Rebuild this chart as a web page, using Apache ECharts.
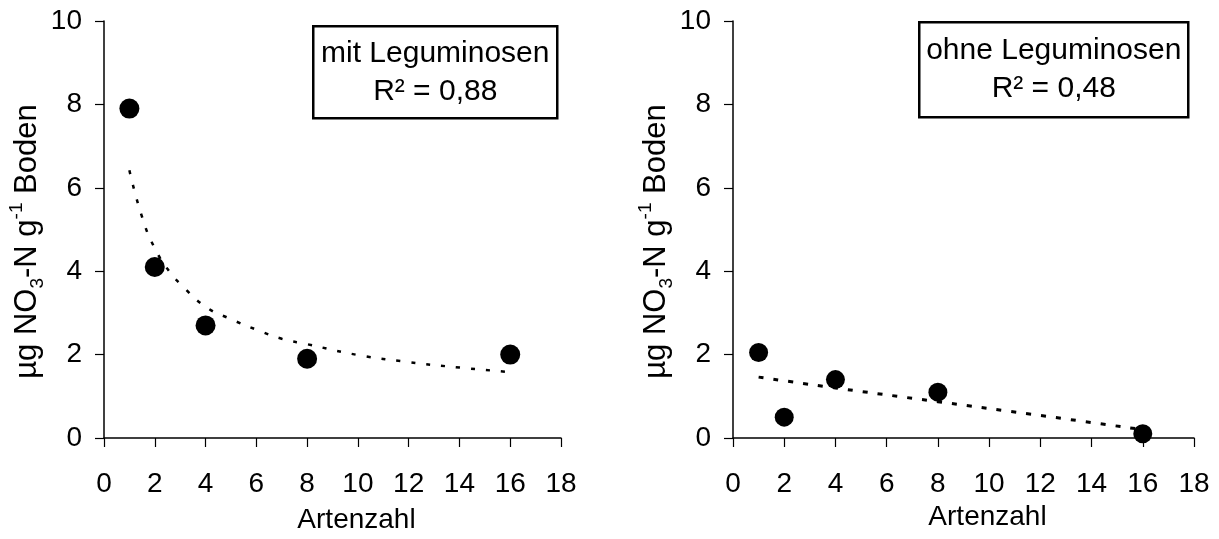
<!DOCTYPE html>
<html>
<head>
<meta charset="utf-8">
<title>Nitrat und Artenzahl</title>
<script src="https://cdn.jsdelivr.net/npm/echarts@6/dist/echarts.min.js"></script>
<style>
  html, body { margin: 0; padding: 0; background: #fff; }
  #chart { width: 1219px; height: 539px; }
</style>
</head>
<body>
<div id="chart"></div>
<script>
var artenzahl = [1, 2, 4, 8, 16];
var mitLeg = [7.9, 4.1, 2.7, 1.9, 2.0];
var ohneLeg = [2.05, 0.5, 1.4, 1.1, 0.1];

// Trendlinien
var trendMitX = [1, 1.5, 2, 2.6, 3, 4, 5, 6, 7, 8, 10, 12, 14, 16];
var trendMitY = [6.42, 5.3, 4.55, 3.97, 3.7, 3.15, 2.85, 2.6, 2.38, 2.25, 1.99, 1.82, 1.69, 1.58];
var trendOhneX = [1, 4, 8, 12, 16];
var trendOhneY = [1.46, 1.2, 0.87, 0.54, 0.2];

var xTicks = [0, 2, 4, 6, 8, 10, 12, 14, 16, 18];
var yTicks = [0, 2, 4, 6, 8, 10];

var boxTexte = ['mit Leguminosen\nR² = 0,88', 'ohne Leguminosen\nR² = 0,48'];

function pairs(xs, ys) {
  var out = [];
  for (var i = 0; i < xs.length; i++) out.push([xs[i], ys[i]]);
  return out;
}

var font = 'Liberation Sans, Arial, sans-serif';
var yName = '{a|µg NO}{sub|3}{a|-N g}{sup|-1}{a| Boden}';
var yNameRich = {
  a: { fontSize: 31, lineHeight: 40, color: '#000', fontFamily: font },
  sub: { fontSize: 19, lineHeight: 24, verticalAlign: 'bottom', color: '#000', fontFamily: font },
  sup: { fontSize: 19, lineHeight: 20, verticalAlign: 'top', color: '#000', fontFamily: font }
};

function xAxis(idx, gap) {
  return {
    type: 'value', gridIndex: idx, min: xTicks[0], max: xTicks[xTicks.length - 1], interval: 2,
    name: 'Artenzahl', nameLocation: 'middle', nameGap: gap,
    nameTextStyle: { fontSize: 28, color: '#000', fontFamily: font, padding: [0, 0, 0, 48] },
    axisLine: { lineStyle: { color: '#000', width: 1.5 } },
    axisTick: { length: 9, lineStyle: { color: '#000', width: 1.2 } },
    axisLabel: { fontSize: 28, color: '#000', fontFamily: font, margin: 32 },
    splitLine: { show: false }
  };
}

function yAxis(idx) {
  return {
    type: 'value', gridIndex: idx, min: yTicks[0], max: yTicks[yTicks.length - 1], interval: 2,
    name: yName, nameLocation: 'middle', nameRotate: 90, nameGap: 50,
    nameTextStyle: { rich: yNameRich, padding: [0, 24, 0, 0] },
    axisLine: { show: true, lineStyle: { color: '#000', width: 1.5 } },
    axisTick: { show: true, length: 9, lineStyle: { color: '#000', width: 1.2 } },
    axisLabel: { fontSize: 28, color: '#000', fontFamily: font, margin: 22 },
    splitLine: { show: false }
  };
}

function punkte(idx, data, size) {
  return {
    type: 'scatter', xAxisIndex: idx, yAxisIndex: idx, data: data,
    symbol: 'circle', symbolSize: size, itemStyle: { color: '#000', opacity: 1 }, z: 3
  };
}

function trend(idx, data, width, dash) {
  return {
    type: 'line', xAxisIndex: idx, yAxisIndex: idx, data: data, smooth: true,
    showSymbol: false, lineStyle: { color: '#000', width: width, type: dash }, z: 2
  };
}

function box(x, y, w, h, txt) {
  return {
    type: 'group', left: x, top: y,
    children: [
      { type: 'rect', shape: { x: 0, y: 0, width: w, height: h },
        style: { fill: '#fff', stroke: '#000', lineWidth: 2.5 } },
      { type: 'text', x: w / 2, y: h / 2,
        style: { text: txt, font: '30px ' + font, fill: '#000', align: 'center',
                 verticalAlign: 'middle', lineHeight: 38 } }
    ]
  };
}

var chart = echarts.init(document.getElementById('chart'));
var option = {
  animation: false,
  grid: [
    { left: 104, top: 21, width: 457, height: 421 },
    { left: 733, top: 21, width: 461, height: 417 }
  ],
  xAxis: [xAxis(0, 68), xAxis(1, 65)],
  yAxis: [yAxis(0), yAxis(1)],
  series: [
    trend(0, pairs(trendMitX, trendMitY), 2.5, [4, 11]),
    punkte(0, pairs(artenzahl, mitLeg), 20),
    trend(1, pairs(trendOhneX, trendOhneY), 3, [5, 10]),
    punkte(1, pairs(artenzahl, ohneLeg), 19)
  ],
  graphic: [
    box(312, 25, 244, 92, boxTexte[0]),
    box(918, 21, 269, 95, boxTexte[1])
  ]
};
chart.setOption(option);
</script>
</body>
</html>
